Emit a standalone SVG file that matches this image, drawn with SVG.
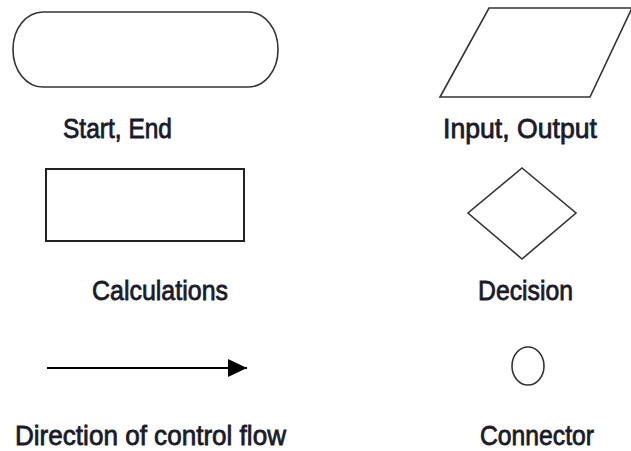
<svg xmlns="http://www.w3.org/2000/svg" width="631" height="451" viewBox="0 0 631 451">
<style>
.shape{fill:#fff;stroke:#333;stroke-width:1.6}
.lbl{font-family:"Liberation Sans Narrow","Arial Narrow","Liberation Sans",Arial,sans-serif;font-size:28px;fill:#1a1a2a;stroke:#1a1a2a;stroke-width:0.8}
</style>
<defs>
<marker id="arrow" markerWidth="19" markerHeight="18" refX="19" refY="9" markerUnits="userSpaceOnUse" orient="auto">
<path d="M0,0 L19,9 L0,18 Z" fill="#000"/>
</marker>
</defs>
<rect width="631" height="451" fill="#fff"/>
<g id="start-end">
<rect class="shape" x="13" y="12" width="265" height="75" rx="30" ry="37"/>
<text class="lbl" x="63" y="138" textLength="109" lengthAdjust="spacingAndGlyphs">Start, End</text>
</g>
<g id="input-output">
<polygon class="shape" points="489,8 632,8 590,97 440,97"/>
<text class="lbl" x="443" y="138" textLength="154" lengthAdjust="spacingAndGlyphs">Input, Output</text>
</g>
<g id="calculations">
<rect class="shape" x="46" y="169" width="198" height="72" style="stroke:#222;stroke-width:2"/>
<text class="lbl" x="92" y="300" textLength="136" lengthAdjust="spacingAndGlyphs">Calculations</text>
</g>
<g id="decision">
<polygon class="shape" points="522,168 576,213 522,259 468,213"/>
<text class="lbl" x="478" y="300" textLength="95" lengthAdjust="spacingAndGlyphs">Decision</text>
</g>
<g id="connector">
<ellipse class="shape" cx="528" cy="366" rx="16" ry="19"/>
<text class="lbl" x="480" y="445" textLength="114" lengthAdjust="spacingAndGlyphs">Connector</text>
</g>
<g id="connectors">
<line x1="47" y1="368" x2="247" y2="368" stroke="#000" stroke-width="2" marker-end="url(#arrow)"/>
</g>
<g id="flow-label">
<text class="lbl" x="15" y="445" textLength="271" lengthAdjust="spacingAndGlyphs">Direction of control flow</text>
</g>
</svg>
